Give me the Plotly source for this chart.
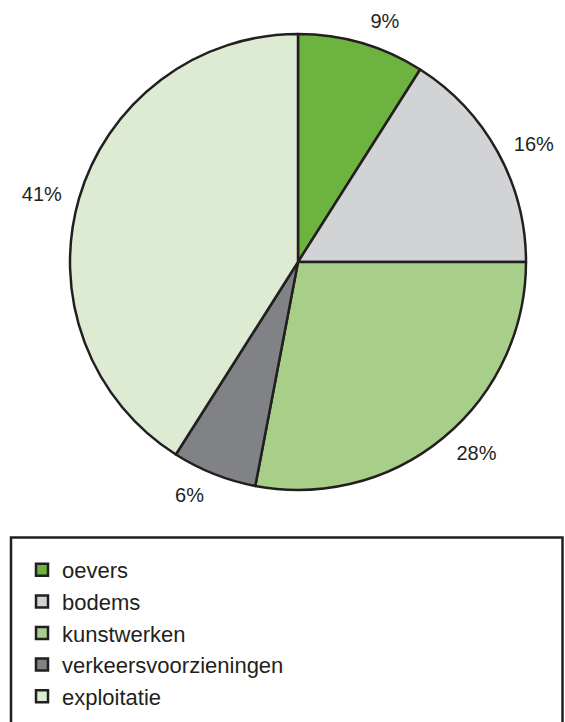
import plotly.graph_objects as go

categories = ["oevers", "bodems", "kunstwerken", "verkeersvoorzieningen", "exploitatie"]
values = [9, 16, 28, 6, 41]
colors = ["#6db33f", "#d1d3d4", "#a8cf8a", "#808285", "#deebd3"]
labels_text = [f"{v}%" for v in values]

W, H = 565, 722
dark = "#231f20"


def px_x(x):
    return x / W


def px_y(y):
    return (H - y) / H


# main pie (slices, no text)
fig = go.Figure(go.Pie(
    labels=categories,
    values=values,
    textinfo="none",
    sort=False,
    direction="clockwise",
    rotation=0,
    marker=dict(colors=colors, line=dict(color=dark, width=2.5)),
    domain=dict(x=[px_x(70), px_x(526)], y=[px_y(490), px_y(34)]),
    hoverinfo="label+percent",
))

# slightly larger transparent pie that only carries the outside percentage labels
fig.add_trace(go.Pie(
    labels=categories,
    values=values,
    text=labels_text,
    textinfo="text",
    textposition="outside",
    sort=False,
    direction="clockwise",
    rotation=0,
    showlegend=False,
    hoverinfo="skip",
    automargin=False,
    marker=dict(colors=["rgba(0,0,0,0)"] * len(values), line=dict(width=0)),
    outsidetextfont=dict(size=20, color=dark, family="Liberation Sans, Arial"),
    domain=dict(x=[px_x(58), px_x(538)], y=[px_y(502), px_y(22)]),
))

fig.update_layout(
    width=W, height=H,
    margin=dict(l=0, r=0, t=0, b=0, autoexpand=False),
    paper_bgcolor="white",
    font=dict(family="Liberation Sans, Arial", color=dark),
    showlegend=True,
    legend=dict(
        x=px_x(22), xanchor="left",
        y=px_y(549), yanchor="top",
        font=dict(size=22, color=dark, family="Liberation Sans, Arial"),
        bgcolor="rgba(0,0,0,0)",
        borderwidth=0,
    ),
    shapes=[dict(
        type="rect", xref="paper", yref="paper",
        x0=px_x(11), x1=px_x(562.5), y0=-0.05, y1=px_y(537.5),
        line=dict(color=dark, width=2.5), fillcolor="rgba(0,0,0,0)",
    )],
)

fig.write_html(
    "out.html",
    config={"displayModeBar": False},
    post_script="document.body.style.margin='0';document.body.style.overflow='hidden';",
)
